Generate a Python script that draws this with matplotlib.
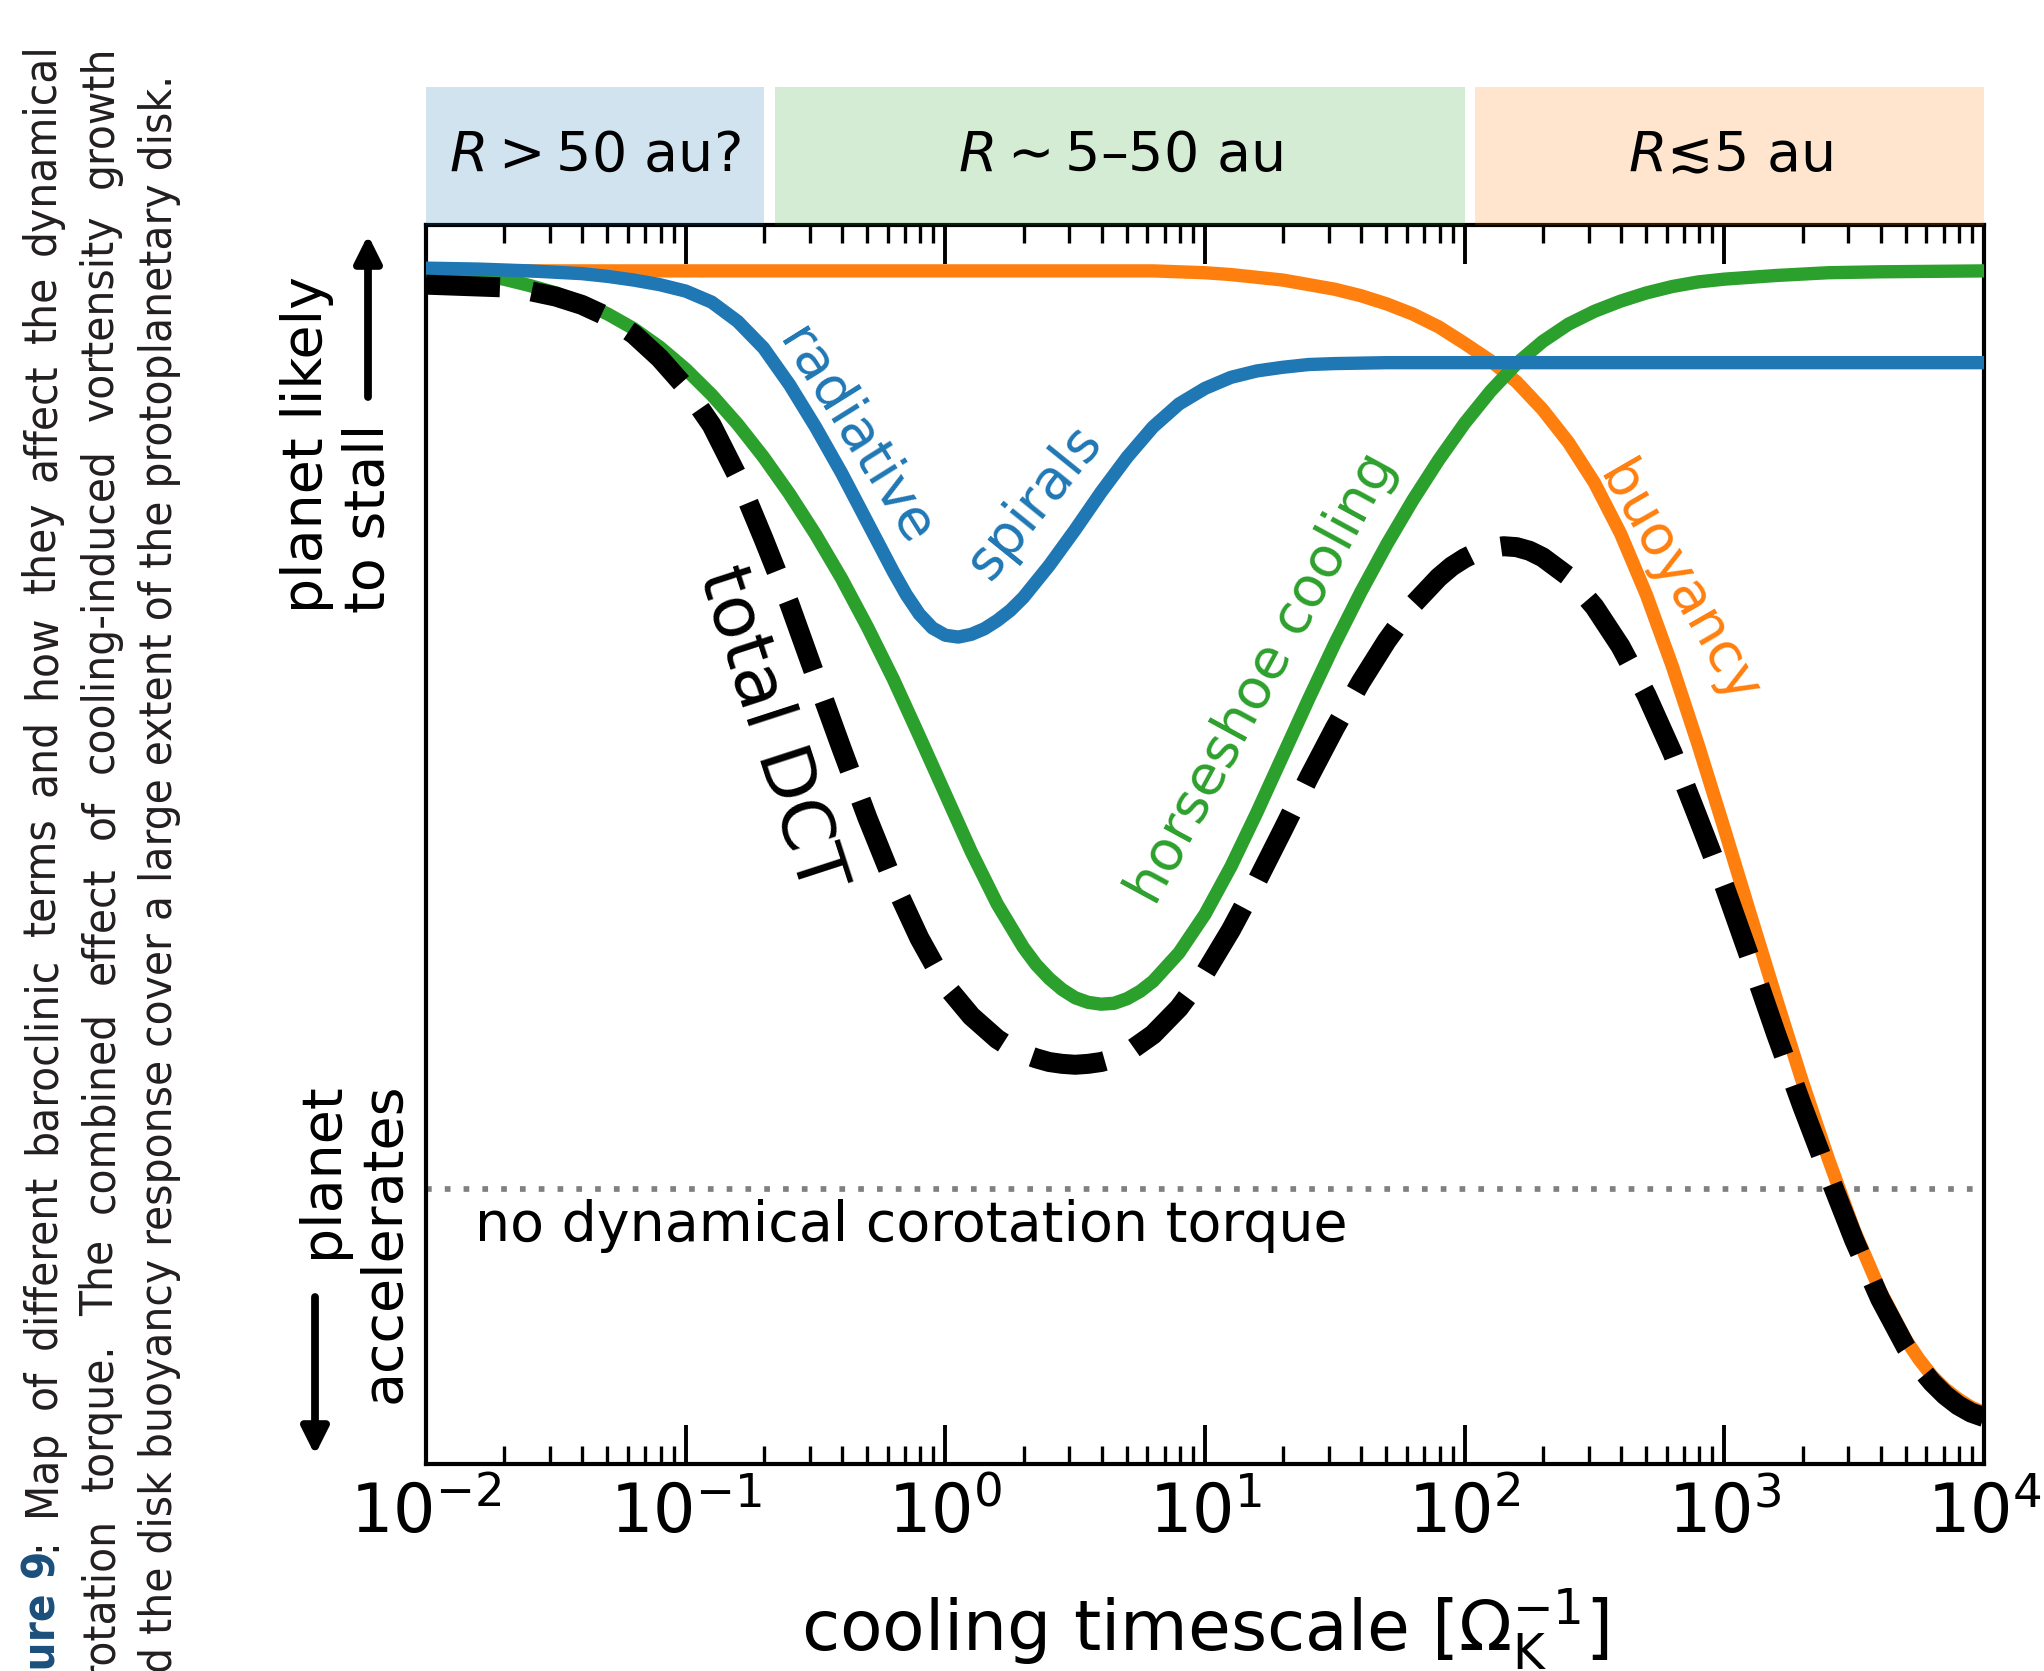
import numpy as np
import matplotlib
matplotlib.use('Agg')
import matplotlib.pyplot as plt
from matplotlib import font_manager as fm
from matplotlib.patches import FancyArrowPatch

# curves: log10(cooling timescale) and torque level
# (1 = top plateau, 0 = no dynamical corotation torque)
buoy_lt = [-2.0, 0.8, 1.0, 1.1, 1.2, 1.3, 1.4, 1.5, 1.6, 1.7, 1.8, 1.9, 2.0, 2.1,
           2.2, 2.3, 2.4, 2.5, 2.6, 2.7, 2.8, 2.9, 3.0, 3.1, 3.2, 3.3, 3.4, 3.5,
           3.6, 3.7, 3.75, 3.8, 3.85, 3.9, 3.95, 4.0]
buoy_val = [1.000, 1.000, 0.998, 0.996, 0.993, 0.990, 0.985, 0.980, 0.973, 0.964,
            0.953, 0.939, 0.921, 0.902, 0.879, 0.849, 0.813, 0.769, 0.714, 0.647,
            0.569, 0.483, 0.392, 0.299, 0.207, 0.117, 0.033, -0.045, -0.111, -0.165,
            -0.186, -0.204, -0.218, -0.229, -0.238, -0.244]

rad_lt = [-2.0, -1.8, -1.6, -1.4, -1.3, -1.2, -1.1, -1.0, -0.9, -0.8, -0.7, -0.6,
          -0.5, -0.4, -0.3, -0.2, -0.15, -0.1, -0.05, 0.0, 0.05, 0.1, 0.15, 0.2,
          0.25, 0.3, 0.4, 0.5, 0.6, 0.7, 0.8, 0.9, 1.0, 1.1, 1.2, 1.3, 1.4, 1.5,
          1.7, 4.0]
rad_val = [1.003, 1.002, 1.000, 0.997, 0.994, 0.990, 0.985, 0.978, 0.966, 0.945,
           0.916, 0.876, 0.830, 0.780, 0.726, 0.672, 0.647, 0.626, 0.611, 0.603,
           0.601, 0.604, 0.610, 0.619, 0.630, 0.644, 0.679, 0.718, 0.759, 0.797,
           0.830, 0.855, 0.872, 0.884, 0.891, 0.895, 0.898, 0.899, 0.900, 0.900]

hs_lt = [-2.0, -1.9, -1.8, -1.7, -1.6, -1.5, -1.4, -1.3, -1.2, -1.1, -1.0, -0.9,
         -0.8, -0.7, -0.6, -0.5, -0.4, -0.3, -0.2, -0.1, 0.0, 0.1, 0.2, 0.3, 0.35,
         0.4, 0.45, 0.5, 0.55, 0.6, 0.65, 0.7, 0.75, 0.8, 0.9, 1.0, 1.1, 1.2, 1.3,
         1.4, 1.5, 1.6, 1.7, 1.8, 1.9, 2.0, 2.1, 2.2, 2.3, 2.4, 2.5, 2.6, 2.7, 2.8,
         2.9, 3.0, 3.2, 3.4, 3.6, 4.0]
hs_val = [1.000, 0.998, 0.995, 0.991, 0.984, 0.976, 0.966, 0.953, 0.937, 0.917,
          0.893, 0.865, 0.833, 0.797, 0.757, 0.713, 0.665, 0.612, 0.555, 0.493,
          0.430, 0.367, 0.310, 0.263, 0.244, 0.229, 0.217, 0.208, 0.203, 0.201,
          0.202, 0.207, 0.215, 0.226, 0.257, 0.299, 0.351, 0.410, 0.472, 0.534,
          0.594, 0.650, 0.702, 0.750, 0.794, 0.834, 0.869, 0.899, 0.923, 0.942,
          0.956, 0.967, 0.976, 0.983, 0.988, 0.991, 0.995, 0.998, 0.999, 1.000]

tot_lt = [-2.0, -1.8, -1.7, -1.6, -1.5, -1.4, -1.3, -1.2, -1.1, -1.0, -0.9, -0.8,
          -0.7, -0.6, -0.5, -0.4, -0.3, -0.2, -0.1, 0.0, 0.1, 0.2, 0.25, 0.3, 0.35,
          0.4, 0.45, 0.5, 0.55, 0.6, 0.65, 0.7, 0.8, 0.9, 1.0, 1.1, 1.2, 1.3, 1.4,
          1.5, 1.6, 1.7, 1.8, 1.9, 1.95, 2.0, 2.05, 2.1, 2.15, 2.2, 2.25, 2.3, 2.4,
          2.5, 2.6, 2.7, 2.8, 2.9, 3.0, 3.1, 3.2, 3.3, 3.4, 3.5, 3.6, 3.7, 3.75,
          3.8, 3.85, 3.9, 3.95, 4.0]
tot_val = [0.985, 0.983, 0.982, 0.978, 0.972, 0.963, 0.950, 0.931, 0.905, 0.873,
           0.832, 0.776, 0.708, 0.637, 0.558, 0.480, 0.404, 0.334, 0.273, 0.222,
           0.188, 0.163, 0.154, 0.147, 0.142, 0.138, 0.136, 0.135, 0.136, 0.138,
           0.142, 0.148, 0.168, 0.197, 0.235, 0.282, 0.335, 0.391, 0.448, 0.502,
           0.552, 0.597, 0.636, 0.666, 0.678, 0.687, 0.694, 0.698, 0.700, 0.699,
           0.695, 0.688, 0.667, 0.634, 0.591, 0.538, 0.475, 0.403, 0.330, 0.250,
           0.168, 0.090, 0.016, -0.056, -0.120, -0.173, -0.194, -0.211, -0.225,
           -0.236, -0.244, -0.249]

# radial regions on top
band_lo = [1e-2, 0.22, 110]
band_hi = [0.2, 100, 1e4]
band_names = [r'$R > 50$ au?', r'$R\sim5$–$50$ au', r'$R≲5$ au']
band_colors = ['tab:blue', 'tab:green', 'tab:orange']

caption = ['Map of different baroclinic terms and how they affect the dynamical',
           'corotation torque. The combined effect of cooling-induced vortensity growth',
           'and the disk buoyancy response cover a large extent of the protoplanetary disk.']

W, H = 2044, 1671
fig = plt.figure(figsize=(W / 200, H / 200), dpi=200)

def fx(px):
    return px / W

def fy(py):
    return 1 - py / H

ax = fig.add_axes([fx(426), fy(1464), fx(1984) - fx(426), fy(225) - fy(1464)])
bx = fig.add_axes([fx(426), fy(225), fx(1984) - fx(426), fy(87) - fy(225)], sharex=ax)

lw = 4.8
ax.plot(10.0 ** np.array(buoy_lt), buoy_val, color='tab:orange', lw=lw, zorder=2)
ax.plot(10.0 ** np.array(hs_lt), hs_val, color='tab:green', lw=lw, zorder=3)
ax.plot(10.0 ** np.array(rad_lt), rad_val, color='tab:blue', lw=lw, zorder=4)
ax.plot(10.0 ** np.array(tot_lt), tot_val, color='k', lw=7.2, ls='--', zorder=5)
ax.axhline(0, color='gray', lw=2.05, ls=(0, (1, 2.3)), zorder=1)

ax.set_xscale('log')
ax.set_xlim(1e-2, 1e4)
ax.set_ylim(-0.3, 1.05)
ax.set_yticks([])
ax.tick_params(axis='x', which='both', direction='in', top=True, labelsize=24, pad=6)
ax.tick_params(axis='x', which='major', length=14, width=1.4)
ax.tick_params(axis='x', which='minor', length=6.5, width=1.2)
for s in ax.spines.values():
    s.set_linewidth(1.5)
ax.set_xlabel(r'cooling timescale [$\Omega_\mathrm{K}^{-1}$]', fontsize=25, labelpad=14)

# curve labels
ax.text(0.448, 0.819, 'radiative', color='tab:blue', fontsize=20, rotation=-58,
        rotation_mode='anchor', ha='center', va='center')
ax.text(2.22, 0.749, 'spirals', color='tab:blue', fontsize=20, rotation=51,
        rotation_mode='anchor', ha='center', va='center')
ax.text(16.6, 0.556, 'horseshoe cooling', color='tab:green', fontsize=20, rotation=61.5,
        rotation_mode='anchor', ha='center', va='center')
ax.text(659, 0.659, 'buoyancy', color='tab:orange', fontsize=20, rotation=-60,
        rotation_mode='anchor', ha='center', va='center')
ax.text(0.21, 0.50, 'total DCT', color='k', fontsize=26, rotation=-72,
        rotation_mode='anchor', ha='center', va='center')
ax.text(0.01545, -0.057, 'no dynamical corotation torque', fontsize=20,
        ha='left', va='baseline')

# region bands
for lo, hi, name, c in zip(band_lo, band_hi, band_names, band_colors):
    bx.axvspan(lo, hi, color=c, alpha=0.2, lw=0)
    bx.text(np.sqrt(lo * hi), 0.5, name, fontsize=20, ha='center', va='center')
bx.set_ylim(0, 1)
bx.axis('off')

# side annotations
fig.text(fx(338), fy(613), 'planet likely\nto stall', fontsize=20, rotation=90,
         ha='center', va='bottom', multialignment='left')
fig.text(fx(353), fy(1082), 'planet\naccelerates', fontsize=20, rotation=90,
         ha='center', va='top', multialignment='right')
arrow = dict(arrowstyle='-|>,head_length=0.4,head_width=0.2', lw=2.8, color='k',
             mutation_scale=20, shrinkA=0, shrinkB=0)
fig.add_artist(FancyArrowPatch((fx(368), fy(397)), (fx(368), fy(235)),
                               transform=fig.transFigure, **arrow))
fig.add_artist(FancyArrowPatch((fx(315), fy(1297)), (fx(315), fy(1455)),
                               transform=fig.transFigure, **arrow))

# page caption, rotated and cut at the figure edge; pick a narrow sans if there is one
cap_family, cap_stretch = 'DejaVu Sans', 'normal'
for f in fm.fontManager.ttflist:
    narrow = ('Narrow' in f.name or 'Condensed' in f.name
              or f.stretch in ('condensed', 'semi-condensed'))
    if narrow and f.style == 'normal' and 'Serif' not in f.name and 'Mono' not in f.name:
        cap_family, cap_stretch = f.name, f.stretch
        break

renderer = fig.canvas.get_renderer()

def text_width(s, **kw):
    t = fig.text(0, 0, s, **kw)
    w = t.get_window_extent(renderer).width
    t.remove()
    return w

cap_size = 18 * 1596 / text_width(caption[2][2:], family=cap_family,
                                  fontstretch=cap_stretch, fontsize=18)
base = dict(family=cap_family, fontstretch=cap_stretch, fontsize=cap_size)
dark, blue = '#231f20', '#1b4f7c'

def justified(x, y_start, y_end, tokens):
    # tokens: (text, style, glued to the previous one); runs upwards from y_start
    widths = [text_width(s, **base, **kw) for s, kw, glue in tokens]
    ngaps = sum(1 for s, kw, glue in tokens[1:] if not glue)
    gap = ((y_start - y_end) - sum(widths)) / ngaps
    y = y_start
    for i, ((s, kw, glue), w) in enumerate(zip(tokens, widths)):
        if i > 0 and not glue:
            y -= gap
        fig.text(fx(x), fy(y), s, rotation=90, rotation_mode='anchor',
                 ha='left', va='baseline', **base, **kw)
        y -= w

bold_blue = dict(weight='bold', color=blue)
plain = dict(color=dark)
line1 = [('Figure 9', bold_blue, False), (':', plain, True)]
line1 += [(w, plain, False) for w in caption[0].split()]
justified(55, H + text_width('Fig', weight='bold', **base), 43, line1)
line2 = [(w, plain, False) for w in caption[1].split()]
justified(113, H + text_width('cor', **base) * 0.85, 45, line2)
fig.text(fx(172), fy(75), caption[2], color=dark, rotation=90, rotation_mode='anchor',
         ha='right', va='baseline', **base)

fig.savefig('out.png', dpi=200)
